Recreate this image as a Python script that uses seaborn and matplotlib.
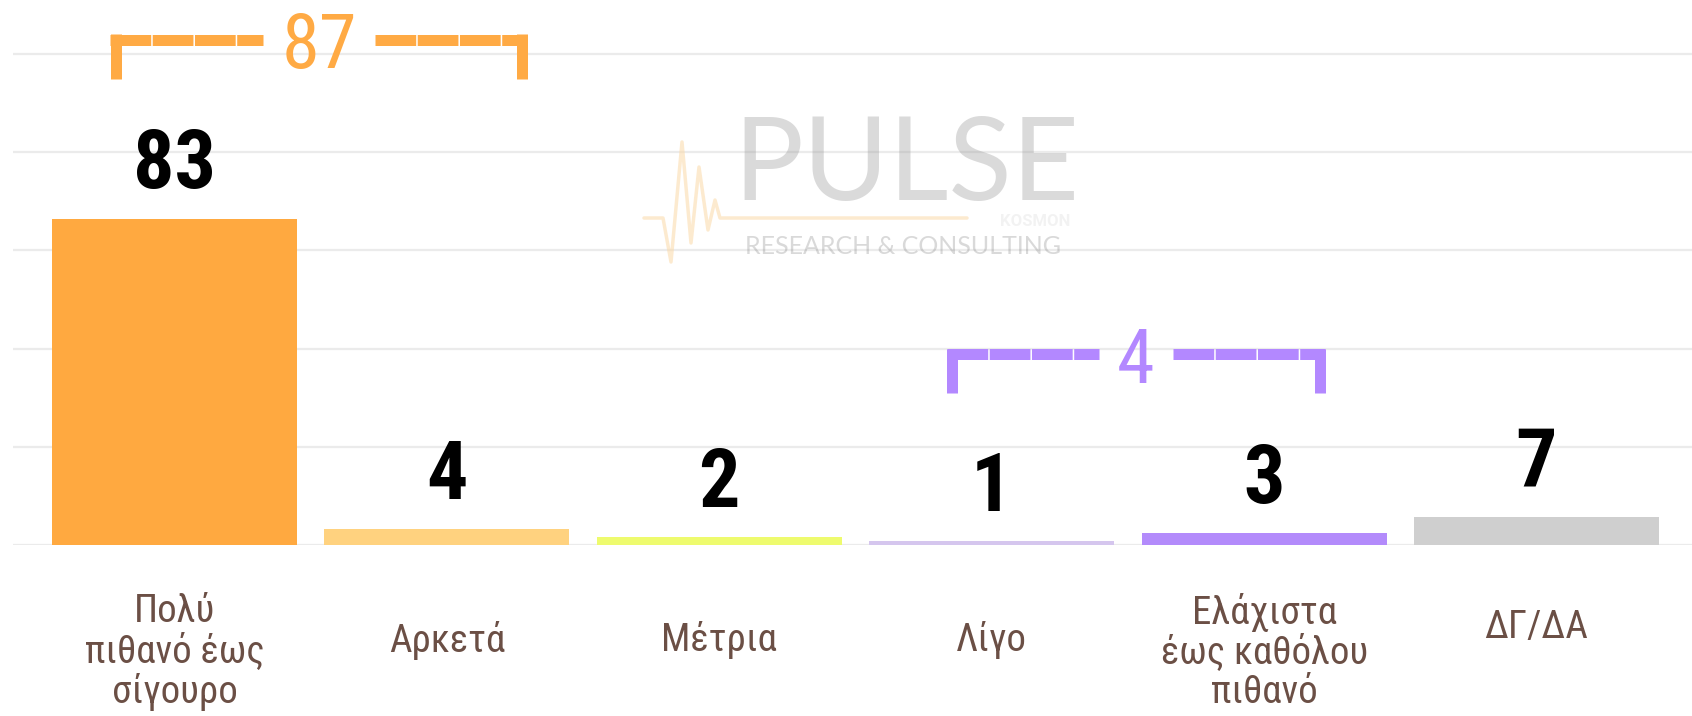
import matplotlib
matplotlib.use("Agg")
import matplotlib.pyplot as plt
import matplotlib.transforms as mtransforms
import seaborn as sns
import pandas as pd

# Data
categories = ["Πολύ\nπιθανό έως\nσίγουρο", "Αρκετά", "Μέτρια", "Λίγο",
              "Ελάχιστα\nέως καθόλου\nπιθανό", "ΔΓ/ΔΑ"]
values = [83, 4, 2, 1, 3, 7]
bar_colors = ["#FFA940", "#FFD27F", "#EEFB6E", "#D5C6EE", "#B38BFB", "#CFCFCF"]
# bracketed groups (first, last category index) and their colours
groups = [(0, 1), (3, 4)]
group_colors = ["#FFAA44", "#B388FF"]

sns.set_theme(style="white")
plt.rcParams["font.family"] = ["Roboto Condensed", "Roboto", "DejaVu Sans"]

df = pd.DataFrame({"cat": categories, "val": values})

W, H = 1692, 716
fig = plt.figure(figsize=(W / 100, H / 100), dpi=100)
ax = fig.add_axes([13 / W, 171 / H, 1 - 13 / W, 545 / H])

sns.barplot(data=df, x="cat", y="val", hue="cat", palette=bar_colors, width=0.9,
            saturation=1, linewidth=0, legend=False, ax=ax)

ax.set_xlim(-0.593, 5.571)
ax.set_ylim(0, 138.7)
ax.set_yticks([0, 25, 50, 75, 100, 125])
ax.yaxis.grid(True, color="#ebebeb", linewidth=1.6)
ax.set_axisbelow(True)
ax.tick_params(left=False, bottom=False, labelleft=False, labelbottom=False)
ax.set_xlabel("")
ax.set_ylabel("")
sns.despine(ax=ax, left=True, bottom=True)

# value labels above bars
for i, v in enumerate(values):
    ax.annotate(str(v), (i, v), xytext=(0, 22), textcoords="offset points",
                ha="center", va="baseline", fontsize=59, fontweight="bold",
                color="black")

# category labels under the axis
blend = mtransforms.blended_transform_factory(ax.transData, ax.transAxes)
for i, lab in enumerate(categories):
    n = lab.count("\n") + 1
    dy = 95 + (n - 1) * 6
    if lab == "ΔΓ/ΔΑ":
        dy -= 13
    tr = blend + mtransforms.ScaledTranslation(0, -dy / 100, fig.dpi_scale_trans)
    ax.text(i, 0, lab, transform=tr, ha="center", va="center", fontsize=28,
            color="#6B4F45", linespacing=1.08)

# brackets with group totals
renderer = fig.canvas.get_renderer()
pads = [(0.215, 0.275), (0.145, 0.205)]
lw_px = 11
for (a, b), col, (pl, pr) in zip(groups, group_colors, pads):
    total = sum(values[a:b + 1])
    top = max(values[a:b + 1]) + 47
    x0, x1 = a - pl, b + pr
    yl = top - 1.4
    xc = (x0 + x1) / 2
    t = ax.text(xc, yl, str(total), ha="center", va="center_baseline",
                fontsize=55, color=col)
    bb = t.get_window_extent(renderer)
    inv = ax.transData.inverted()
    tl = inv.transform((bb.x0 - 18, 0))[0]
    tr_ = inv.transform((bb.x1 + 18, 0))[0]
    hw = (lw_px / 2) / 273
    for xs in ([x0 - hw, tl], [tr_, x1 + hw]):
        ax.plot(xs, [yl, yl], color=col, lw=lw_px * 0.72, solid_capstyle="butt",
                dash_capstyle="butt", linestyle=(0, (3.7, 0.14)))
    for xv in (x0, x1):
        ax.plot([xv, xv], [top, top - 11.3], color=col, lw=lw_px * 0.72,
                solid_capstyle="butt")

# faint watermark
fig.text(733 / W, 1 - 200 / H, "PULSE", ha="left", va="baseline", fontsize=84,
         family="Lato", color=(0.62, 0.62, 0.62, 0.38))
fig.text(1070 / W, 1 - 226 / H, "KOSMON", ha="right", va="baseline", fontsize=12,
         family="Roboto", fontweight="bold", color=(0.6, 0.6, 0.6, 0.12))
fig.text(903 / W, 1 - 247 / H, "RESEARCH & CONSULTING", ha="center", va="center",
         fontsize=18, family="Lato", color=(0.55, 0.55, 0.55, 0.33))
px = [644, 663, 671, 682, 691, 699, 708, 715, 720, 967]
py = [218, 218, 262, 142, 243, 167, 230, 200, 218, 218]
fig.add_artist(plt.Line2D([x / W for x in px], [1 - y / H for y in py],
                          color="#FBD9A8", alpha=0.55, lw=2.5))

fig.savefig("out.png", dpi=100)
